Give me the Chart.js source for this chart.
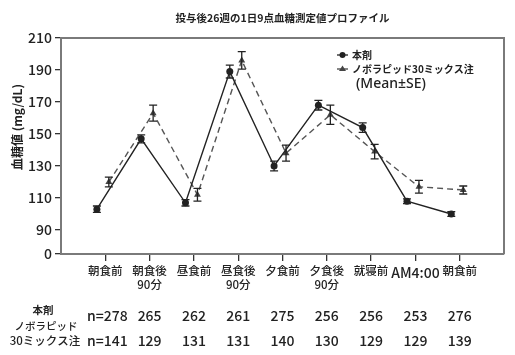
<!DOCTYPE html>
<html>
<head>
<meta charset="utf-8">
<script src="https://cdn.jsdelivr.net/npm/chart.js@4.4.1/dist/chart.umd.min.js"></script>
<style>
html,body{margin:0;padding:0;background:#fff;}
#wrap{width:515px;height:355px;position:relative;}
</style>
</head>
<body>
<div id="wrap"><canvas id="c" width="515" height="355"></canvas></div>
<script>
const categories = [["朝食前"],["朝食後","90分"],["昼食前"],["昼食後","90分"],["夕食前"],["夕食後","90分"],["就寝前"],["AM4:00"],["朝食前"]];
const seriesNames = ["本剤","ノボラピッド30ミックス注"];
const hontaiMean = [103,147,107,189,130,168,154,108,100];
const hontaiSE   = [2,2.5,2,4,3,3,3,1.5,1.5];
const novoMean   = [120,163,112,196,138,162,139,117,115];
const novoSE     = [3,5,4,5.5,5,6,4.5,4,2.5];
const hontaiN = [278,265,262,261,275,256,256,253,276];
const novoN   = [141,129,131,131,140,130,129,129,139];
const yTicks = [90,110,130,150,170,190,210];
const yBreakLabel = "0";
const title = "投与後26週の1日9点血糖測定値プロファイル";
const yTitle = "血糖値 (mg/dL)";
const meanSE = "(Mean±SE)";
const rowLabel2a = "ノボラピッド";
const rowLabel2b = "30ミックス注";

const FONT = "'Noto Sans CJK JP','Noto Sans',sans-serif";
const LATIN = "'Noto Sans','Noto Sans CJK JP',sans-serif";
const Y_MIN = 75;
const OFF_A = -0.19, OFF_B = 0.08;

const toPts = (arr, off) => arr.map((v,i)=>({x:i+1+off, y:v}));

const errPlugin = {
  id:'err',
  afterDatasetsDraw(chart){
    const ctx = chart.ctx, ys = chart.scales.y, xs = chart.scales.x;
    const sets = [[hontaiMean,hontaiSE,OFF_A],[novoMean,novoSE,OFF_B]];
    ctx.save();
    ctx.strokeStyle = '#222'; ctx.lineWidth = 1.3;
    sets.forEach(([m,se,off])=>{
      m.forEach((v,i)=>{
        const x = xs.getPixelForValue(i+1+off);
        const y1 = ys.getPixelForValue(v+se[i]), y2 = ys.getPixelForValue(v-se[i]);
        ctx.beginPath();
        ctx.moveTo(x,y1); ctx.lineTo(x,y2);
        ctx.moveTo(x-4,y1); ctx.lineTo(x+4,y1);
        ctx.moveTo(x-4,y2); ctx.lineTo(x+4,y2);
        ctx.stroke();
      });
    });
    ctx.restore();
  }
};

const decoPlugin = {
  id:'deco',
  afterDraw(chart){
    const ctx = chart.ctx, a = chart.chartArea, xs = chart.scales.x;
    ctx.save();
    ctx.strokeStyle = '#7a7a7a'; ctx.lineWidth = 2;
    ctx.beginPath();
    ctx.moveTo(a.left, a.top); ctx.lineTo(a.right, a.top); ctx.lineTo(a.right, a.bottom);
    ctx.stroke();
    ctx.fillStyle = '#222';
    ctx.textAlign = 'center'; ctx.textBaseline = 'middle';
    ctx.font = "bold 10.5px " + FONT;
    ctx.fillText(title, (a.left+a.right)/2, 18);
    ctx.save();
    ctx.translate(17, 127); ctx.rotate(-Math.PI/2);
    ctx.font = "bold 12px " + FONT;
    ctx.fillText(yTitle, 0, 0);
    ctx.restore();
    const lx = 337, rows = [55, 69];
    ctx.lineWidth = 1.3;
    ctx.strokeStyle = '#222';
    ctx.beginPath(); ctx.moveTo(lx, rows[0]); ctx.lineTo(lx+11, rows[0]); ctx.stroke();
    ctx.fillStyle = '#222';
    ctx.beginPath(); ctx.arc(lx+5.5, rows[0], 3, 0, Math.PI*2); ctx.fill();
    ctx.strokeStyle = '#444';
    ctx.beginPath(); ctx.moveTo(lx, rows[1]); ctx.lineTo(lx+11, rows[1]); ctx.stroke();
    ctx.fillStyle = '#444';
    ctx.beginPath(); ctx.moveTo(lx+5.5, rows[1]-3.5); ctx.lineTo(lx+9, rows[1]+2); ctx.lineTo(lx+2, rows[1]+2); ctx.closePath(); ctx.fill();
    ctx.fillStyle = '#222';
    ctx.textAlign = 'left';
    ctx.font = "bold 10px " + FONT;
    ctx.fillText(seriesNames[0], lx+15, rows[0]);
    ctx.fillText(seriesNames[1], lx+15, rows[1]);
    ctx.font = "500 14px " + LATIN;
    ctx.fillText(meanSE, 356, 84);
    ctx.textAlign = 'center';
    ctx.font = "bold 10.5px " + FONT;
    ctx.fillText(seriesNames[0], 43, 310);
    ctx.font = "500 10.5px " + FONT;
    ctx.fillText(rowLabel2a, 46, 326);
    ctx.font = "500 11.5px " + FONT;
    ctx.fillText(rowLabel2b, 45, 341);
    ctx.font = "500 14px " + FONT;
    hontaiN.forEach((n,i)=>{
      ctx.fillText((i===0?'n=':'')+n, xs.getPixelForValue(i+1)+(i===0?2:0), 316);
    });
    novoN.forEach((n,i)=>{
      ctx.fillText((i===0?'n=':'')+n, xs.getPixelForValue(i+1)+(i===0?2:0), 341);
    });
    ctx.restore();
  }
};

new Chart(document.getElementById('c'), {
  type:'line',
  data:{
    datasets:[
      {label:seriesNames[0], data:toPts(hontaiMean,OFF_A), borderColor:'#222', backgroundColor:'#222',
       borderWidth:1.4, pointStyle:'circle', pointRadius:3.5, pointBackgroundColor:'#222', pointBorderWidth:0, tension:0},
      {label:seriesNames[1], data:toPts(novoMean,OFF_B), borderColor:'#555', backgroundColor:'#444',
       borderWidth:1.4, borderDash:[6,4], pointStyle:'triangle', pointRadius:4, pointBackgroundColor:'#444', pointBorderWidth:0, tension:0}
    ]
  },
  options:{
    responsive:false, animation:false, devicePixelRatio:1,
    layout:{padding:{left:0,right:11,top:38,bottom:0}},
    plugins:{legend:{display:false}, title:{display:false}, tooltip:{enabled:false}},
    scales:{
      x:{type:'linear', min:0, max:10,
        afterBuildTicks(s){ s.ticks = categories.map((c,i)=>({value:i+1})); },
        afterFit(s){ s.height = 101; },
        ticks:{autoSkip:false, maxRotation:0, padding:3, color:'#222',
          font:(c)=>({family:FONT, weight:'500', size: (c.tick && c.tick.value===8) ? 14 : 11.5, lineHeight:1.2}),
          callback:(v)=>{ const c = categories[Math.round(v)-1]; return c ? (c.length>1?c:c[0]) : ''; }},
        grid:{drawOnChartArea:false, drawTicks:true, tickLength:7, color:'#333', lineWidth:1.3},
        border:{display:true, color:'#7a7a7a', width:2}
      },
      y:{type:'linear', min:Y_MIN, max:210,
        afterBuildTicks(s){ s.ticks = [Y_MIN].concat(yTicks).map(v=>({value:v})); },
        afterFit(s){ s.width = 61; },
        ticks:{padding:3, color:'#222', font:{family:FONT, size:14, weight:'500'},
          callback:(v)=> v===Y_MIN ? yBreakLabel : String(v)},
        grid:{drawOnChartArea:false, drawTicks:true, tickLength:6, color:'#333', lineWidth:1.3},
        border:{display:true, color:'#7a7a7a', width:2}
      }
    }
  },
  plugins:[errPlugin, decoPlugin]
});
</script>
</body>
</html>
